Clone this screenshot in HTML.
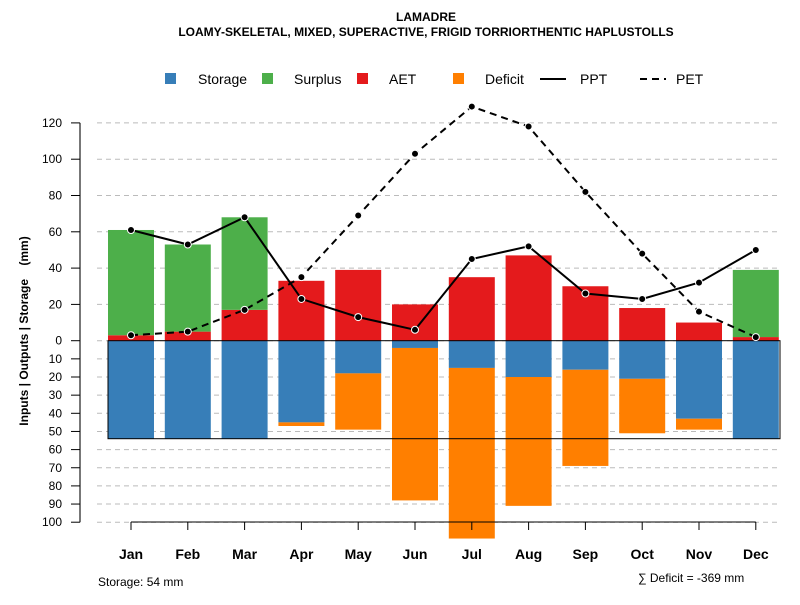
<!DOCTYPE html>
<html><head><meta charset="utf-8"><style>body{margin:0;background:#fff}svg{font-family:"Liberation Sans",sans-serif}</style></head><body>
<svg id="c" width="800" height="600">
<text x="426" y="21" text-anchor="middle" font-size="12" font-weight="bold">LAMADRE</text>
<text x="426" y="36" text-anchor="middle" font-size="12" font-weight="bold">LOAMY-SKELETAL, MIXED, SUPERACTIVE, FRIGID TORRIORTHENTIC HAPLUSTOLLS</text>
<g id="grid"></g><g id="bars"></g><g id="lines"></g><g id="axes"></g>
<g font-size="14">
<rect x="165" y="73" width="11" height="11" fill="#377EB8"/><text x="198" y="84">Storage</text>
<rect x="262" y="73" width="11" height="11" fill="#4DAF4A"/><text x="294" y="84">Surplus</text>
<rect x="357" y="73" width="11" height="11" fill="#E41A1C"/><text x="389" y="84">AET</text>
<rect x="453" y="73" width="11" height="11" fill="#FF7F00"/><text x="485" y="84">Deficit</text>
<line x1="540" y1="79" x2="566" y2="79" stroke="#000" stroke-width="2"/><text x="580" y="84">PPT</text>
<line x1="640" y1="79" x2="666" y2="79" stroke="#000" stroke-width="2" stroke-dasharray="7,5"/><text x="676" y="84">PET</text>
</g>
<text x="98" y="586" font-size="12">Storage: 54 mm</text>
<text x="638" y="582" font-size="12">∑ Deficit = -369 mm</text>
<text transform="translate(28,331) rotate(-90)" text-anchor="middle" font-size="12" font-weight="bold" style="white-space:pre">Inputs | Outputs | Storage    (mm)</text>
</svg>
<script>
const months=["Jan","Feb","Mar","Apr","May","Jun","Jul","Aug","Sep","Oct","Nov","Dec"];
const aet=[3,5,17,33,39,20,35,47,30,18,10,2];
const surplus=[58,48,51,0,0,0,0,0,0,0,0,37];
const storage=[54,54,54,45,18,4,15,20,16,21,43,54];
const deficit=[0,0,0,2,31,84,94,71,53,30,6,0];
const ppt=[61,53,68,23,13,6,45,52,26,23,32,50];
const pet=[3,5,17,35,69,103,129,118,82,48,16,2];
const posTicks=[0,20,40,60,80,100,120];
const negTicks=[10,20,30,40,50,60,70,80,90,100];
const maxStorage=54;
const NS="http://www.w3.org/2000/svg";
const y0=340.7,k=1.815;
const yU=v=>y0-v*k, yD=v=>y0+v*k;
const xC=i=>131+i*56.8, bw=46;
function mk(p,t,a){const e=document.createElementNS(NS,t);for(const q in a)e.setAttribute(q,a[q]);document.getElementById(p).appendChild(e);return e;}
const ax=mk('axes','line',{x1:80,y1:yU(120),x2:80,y2:yD(100),stroke:'#777','stroke-width':2});


posTicks.forEach(v=>{const y=yU(v);
 const g=mk('grid','line',{x1:97,y1:y,x2:780,y2:y,stroke:'#bbb','stroke-dasharray':'5,4'});
 
 
 mk('axes','line',{x1:71,y1:y,x2:80,y2:y,stroke:'#000'});
 const t=mk('axes','text',{x:62,y:y+4,'text-anchor':'end','font-size':12});t.textContent=v;
 
 });
negTicks.forEach(v=>{const y=yD(v);
 const g=mk('grid','line',{x1:97,y1:y,x2:780,y2:y,stroke:'#bbb','stroke-dasharray':'5,4'});
 
 
 mk('axes','line',{x1:71,y1:y,x2:80,y2:y,stroke:'#000'});
 const t=mk('axes','text',{x:62,y:y+4,'text-anchor':'end','font-size':12});t.textContent=v;
 
 });
const xa=mk('axes','line',{x1:xC(0),y1:522,x2:xC(11),y2:522,stroke:'#000'});


months.forEach((m,i)=>{const x=xC(i);
 mk('axes','line',{x1:x,y1:522,x2:x,y2:530,stroke:'#000'});
 const t=mk('axes','text',{x:x,y:559,'text-anchor':'middle','font-size':14,'font-weight':'bold'});t.textContent=m;
 
 
 const x0=x-bw/2;
 let r=mk('bars','rect',{x:x0,y:yU(aet[i]),width:bw,height:aet[i]*k,fill:'#E41A1C'});
 
 
 r=mk('bars','rect',{x:x0,y:yU(aet[i]+surplus[i]),width:bw,height:surplus[i]*k,fill:'#4DAF4A'});
 
 
 r=mk('bars','rect',{x:x0,y:y0,width:bw,height:storage[i]*k,fill:'#377EB8'});
 
 
 r=mk('bars','rect',{x:x0,y:yD(storage[i]),width:bw,height:deficit[i]*k,fill:'#FF7F00'});
 
 
});
const box=mk('bars','rect',{x:108,y:y0,width:672,height:maxStorage*k,fill:'none',stroke:'#000'});


function series(arr,dash,name){
 const p=mk('lines','polyline',{points:arr.map((v,i)=>xC(i)+','+yU(v)).join(' '),fill:'none',stroke:'#000','stroke-width':2,'stroke-dasharray':dash});
 
 
 arr.forEach((v,i)=>{const c=mk('lines','circle',{cx:xC(i),cy:yU(v),r:3.5,fill:'#000',stroke:'#fff','stroke-width':1});
 
 });
}
series(pet,'7,5','pet');
series(ppt,'none','ppt');
</script>
</body></html>
